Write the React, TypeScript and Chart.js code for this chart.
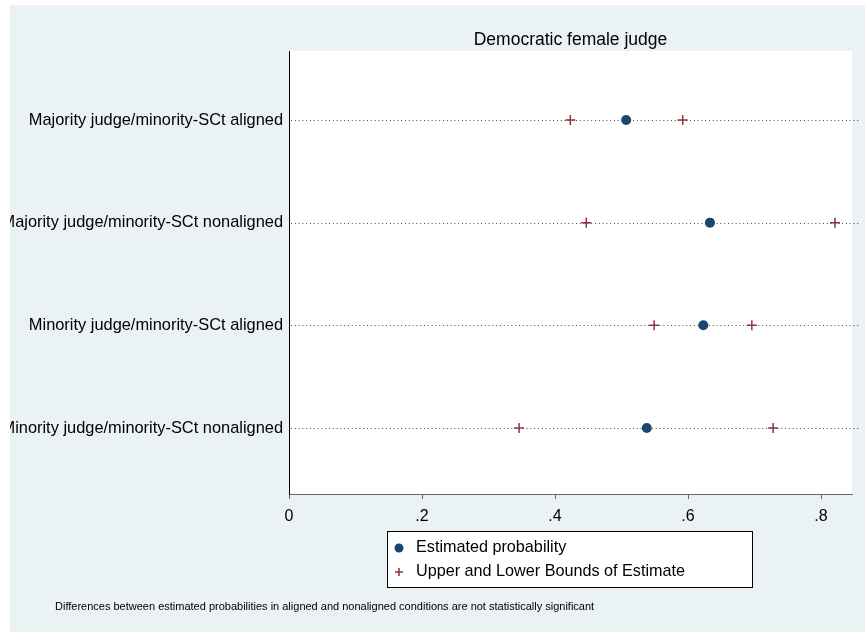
import React, { useEffect, useRef } from "react";
import { Chart, registerables } from "chart.js";

Chart.register(...registerables);

const categories = [
  "Majority judge/minority-SCt aligned",
  "Majority judge/minority-SCt nonaligned",
  "Minority judge/minority-SCt aligned",
  "Minority judge/minority-SCt nonaligned",
];
const estimates = [0.507, 0.633, 0.623, 0.538];
const lowerBounds = [0.423, 0.447, 0.549, 0.346];
const upperBounds = [0.592, 0.821, 0.696, 0.728];
const xTicks = [0, 0.2, 0.4, 0.6, 0.8];
const titleText = "Democratic female judge";
const legendLabels = ["Estimated probability", "Upper and Lower Bounds of Estimate"];
const noteText =
  "Differences between estimated probabilities in aligned and nonaligned conditions are not statistically significant";

const FONT = "Arial, 'Liberation Sans', Helvetica, sans-serif";
const NAVY = "#1a476f";
const RED = "#90353b";
const BG = "#eaf2f3";

export default function App() {
  const ref = useRef<HTMLCanvasElement | null>(null);

  useEffect(() => {
    const canvas = ref.current;
    if (!canvas) return;

    const bgPlugin = {
      id: "stataBg",
      beforeDraw(chart: any) {
        const ctx = chart.ctx;
        const a = chart.chartArea;
        ctx.save();
        ctx.fillStyle = "#ffffff";
        ctx.fillRect(0, 0, chart.width, chart.height);
        ctx.fillStyle = BG;
        ctx.fillRect(10, 5, chart.width - 10, chart.height - 5);
        ctx.fillStyle = "#ffffff";
        ctx.fillRect(a.left, a.top, a.right - a.left, a.bottom - a.top);
        ctx.restore();
      },
      beforeDatasetsDraw(chart: any) {
        const ctx = chart.ctx;
        const a = chart.chartArea;
        const ys = chart.scales.y;
        ctx.save();
        ctx.strokeStyle = "#444444";
        ctx.lineWidth = 1;
        ctx.setLineDash([1, 2.8]);
        categories.forEach((_, i) => {
          const y = Math.round(ys.getPixelForValue(i + 1)) + 0.5;
          ctx.beginPath();
          ctx.moveTo(a.left + 2, y);
          ctx.lineTo(chart.width - 4, y);
          ctx.stroke();
        });
        ctx.restore();
      },
      afterDraw(chart: any) {
        const ctx = chart.ctx;
        const a = chart.chartArea;
        ctx.save();
        // clip left strip
        ctx.fillStyle = "#ffffff";
        ctx.fillRect(0, 0, 10, chart.height);
        // title
        ctx.fillStyle = "#000000";
        ctx.font = `17.5px ${FONT}`;
        ctx.textAlign = "center";
        ctx.textBaseline = "middle";
        ctx.fillText(titleText, (a.left + a.right) / 2, 40);
        // legend box
        const lx = 387.5, ly = 531.5, lw = 365, lh = 56;
        ctx.fillStyle = "#ffffff";
        ctx.fillRect(lx, ly, lw, lh);
        ctx.strokeStyle = "#000000";
        ctx.lineWidth = 1;
        ctx.strokeRect(lx, ly, lw, lh);
        // legend markers
        ctx.fillStyle = NAVY;
        ctx.beginPath();
        ctx.arc(399, 548, 4.5, 0, Math.PI * 2);
        ctx.fill();
        ctx.strokeStyle = RED;
        ctx.lineWidth = 1.5;
        ctx.beginPath();
        ctx.moveTo(395, 572);
        ctx.lineTo(403, 572);
        ctx.moveTo(399, 568);
        ctx.lineTo(399, 576);
        ctx.stroke();
        ctx.fillStyle = "#000000";
        ctx.font = `16.2px ${FONT}`;
        ctx.textAlign = "left";
        ctx.fillText(legendLabels[0], 416, 548);
        ctx.fillText(legendLabels[1], 416, 572);
        // note
        ctx.font = `11px ${FONT}`;
        ctx.fillText(noteText, 55, 607);
        ctx.restore();
      },
    };

    const estData = estimates.map((v, i) => ({ x: v, y: i + 1 }));
    const boundData: { x: number; y: number }[] = [];
    lowerBounds.forEach((v, i) => boundData.push({ x: v, y: i + 1 }));
    upperBounds.forEach((v, i) => boundData.push({ x: v, y: i + 1 }));

    const chart = new Chart(canvas, {
      type: "scatter",
      data: {
        datasets: [
          {
            label: legendLabels[0],
            data: estData,
            pointStyle: "circle",
            pointRadius: 5,
            backgroundColor: NAVY,
            borderColor: NAVY,
            borderWidth: 0,
          },
          {
            label: legendLabels[1],
            data: boundData,
            pointStyle: "cross",
            pointRadius: 5,
            backgroundColor: RED,
            borderColor: RED,
            borderWidth: 1.5,
          },
        ],
      },
      options: {
        responsive: false,
        animation: false,
        layout: { padding: { left: 0, top: 51, right: 13, bottom: 0 } },
        plugins: {
          legend: { display: false },
          title: { display: false },
          tooltip: { enabled: false },
        },
        scales: {
          x: {
            type: "linear",
            min: 0,
            max: 0.8466,
            afterBuildTicks(scale: any) {
              scale.ticks = xTicks.map((v) => ({ value: v }));
            },
            afterFit(scale: any) {
              scale.height = 632 - 494;
            },
            grid: {
              drawOnChartArea: false,
              drawTicks: true,
              tickLength: 5,
              color: "#666666",
            },
            border: { display: true, color: "#666666", width: 1 },
            ticks: {
              color: "#000000",
              font: { family: FONT, size: 16 },
              padding: 8,
              maxRotation: 0,
              callback: (v: any) => (v === 0 ? "0" : String(v).replace(/^0/, "")),
            },
          },
          y: {
            type: "linear",
            reverse: true,
            min: 0.328,
            max: 4.643,
            afterBuildTicks(scale: any) {
              scale.ticks = categories.map((_, i) => ({ value: i + 1 }));
            },
            afterFit(scale: any) {
              scale.width = 289;
            },
            grid: { display: false, drawTicks: false },
            border: { display: true, color: "#000000", width: 1 },
            ticks: {
              color: "#000000",
              font: { family: FONT, size: 16.4 },
              padding: 6,
              autoSkip: false,
              callback: (v: any) => categories[Math.round(v) - 1] ?? "",
            },
          },
        },
      },
      plugins: [bgPlugin],
    } as any);

    return () => chart.destroy();
  }, []);

  return (
    <div style={{ position: "absolute", left: 0, top: 0, width: 865, height: 632 }}>
      <canvas ref={ref} width={865} height={632} style={{ display: "block" }} />
    </div>
  );
}
